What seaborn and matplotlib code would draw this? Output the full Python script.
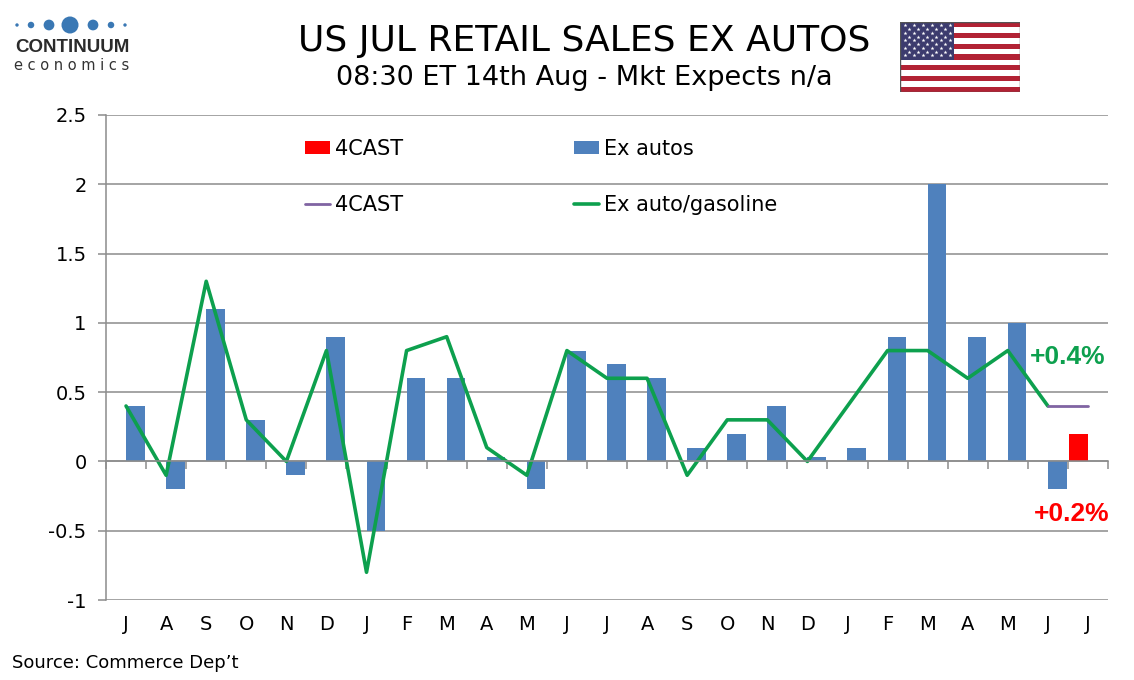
import numpy as np
import pandas as pd
import matplotlib
matplotlib.use("Agg")
import matplotlib.pyplot as plt
from matplotlib.patches import Patch, Rectangle
from matplotlib.lines import Line2D
import seaborn as sns

# ---------------- data ----------------
months = ["Jul23", "Aug23", "Sep23", "Oct23", "Nov23", "Dec23", "Jan24", "Feb24",
          "Mar24", "Apr24", "May24", "Jun24", "Jul24", "Aug24", "Sep24", "Oct24",
          "Nov24", "Dec24", "Jan25", "Feb25", "Mar25", "Apr25", "May25", "Jun25",
          "Jul25"]
tick_letters = ["J", "A", "S", "O", "N", "D", "J", "F", "M", "A", "M", "J", "J",
                "A", "S", "O", "N", "D", "J", "F", "M", "A", "M", "J", "J"]
ex_autos = [0.4, -0.2, 1.1, 0.3, -0.1, 0.9, -0.5, 0.6, 0.6, 0.03, -0.2, 0.8,
            0.7, 0.6, 0.1, 0.2, 0.4, 0.03, 0.1, 0.9, 2.0, 0.9, 1.0, -0.2]
ex_auto_gas = [0.4, -0.1, 1.3, 0.3, 0.0, 0.8, -0.8, 0.8, 0.9, 0.1, -0.1, 0.8,
               0.6, 0.6, -0.1, 0.3, 0.3, 0.0, 0.4, 0.8, 0.8, 0.6, 0.8, 0.4]
forecast_bar_month = ["Jul25"]
forecast_bar = [0.2]
forecast_line_months = ["Jun25", "Jul25"]
forecast_line = [0.4, 0.4]
yticks = [-1, -0.5, 0, 0.5, 1, 1.5, 2, 2.5]
ytick_labels = ["-1", "-0.5", "0", "0.5", "1", "1.5", "2", "2.5"]

BLUE = "#4F81BD"
RED = "#FF0000"
GREEN = "#0DA04E"
PURPLE = "#8064A2"
GRID = "#8C8C8C"

bars = pd.DataFrame({
    "month": months[:len(ex_autos)] + forecast_bar_month,
    "value": ex_autos + forecast_bar,
    "series": ["Ex autos"] * len(ex_autos) + ["4CAST"] * len(forecast_bar),
})
pos = {m: i for i, m in enumerate(months)}
line_df = pd.DataFrame({"x": [pos[m] for m in months[:len(ex_auto_gas)]], "y": ex_auto_gas})
fc_df = pd.DataFrame({"x": [pos[m] for m in forecast_line_months], "y": forecast_line})

sns.set_theme(style="white")
plt.rcParams["font.family"] = ["DejaVu Sans"]
plt.rcParams["text.color"] = "black"

fig = plt.figure(figsize=(11.34, 6.8), dpi=100)
ax = fig.add_axes([106 / 1134, 1 - 600 / 680, (1108 - 106) / 1134, 485 / 680])

sns.barplot(data=bars, x="month", y="value", hue="series", order=months,
            hue_order=["4CAST", "Ex autos"], palette={"4CAST": RED, "Ex autos": BLUE},
            width=0.93, dodge=True, saturation=1, legend=False, ax=ax, errorbar=None,
            linewidth=0, edgecolor="none")
sns.lineplot(data=line_df, x="x", y="y", color=GREEN, lw=2.6, ax=ax)
sns.lineplot(data=fc_df, x="x", y="y", color=PURPLE, lw=2.0, ax=ax)

ax.set_xlim(-0.5, len(months) - 0.5)
ax.set_ylim(-1, 2.5)
ax.set_xlabel("")
ax.set_ylabel("")
ax.set_yticks(yticks, ytick_labels)
ax.yaxis.grid(True, color=GRID, lw=1.1)
ax.xaxis.grid(False)
ax.set_axisbelow(True)
for s in ["top", "right"]:
    ax.spines[s].set_visible(False)
ax.spines["left"].set_color(GRID)
ax.spines["left"].set_linewidth(1.1)
ax.spines["bottom"].set_position(("data", 0))
ax.spines["bottom"].set_color(GRID)
ax.spines["bottom"].set_linewidth(1.1)
ax.set_xticks(range(len(months)), [""] * len(months))
ax.set_xticks(np.arange(-0.5, len(months)), minor=True)
ax.tick_params(axis="x", which="major", length=0)
ax.tick_params(axis="x", which="minor", length=6, width=1.1, color=GRID, direction="out", bottom=True)
ax.tick_params(axis="y", length=6, width=1.1, color=GRID, direction="out", left=True,
               labelsize=14, pad=8, labelcolor="black")

sec = ax.secondary_xaxis("bottom")
sec.set_xticks(range(len(months)), tick_letters)
sec.tick_params(length=0, pad=11, labelsize=14, labelcolor="black")
sec.spines["bottom"].set_visible(False)

# legend
handles = [Patch(facecolor=RED, edgecolor="none"),
           Line2D([0], [0], color=PURPLE, lw=2.0),
           Patch(facecolor=BLUE, edgecolor="none"),
           Line2D([0], [0], color=GREEN, lw=2.6)]
labels = ["4CAST", "4CAST", "Ex autos", "Ex auto/gasoline"]
fig.legend(handles, labels, ncol=2, loc="upper left",
           bbox_to_anchor=(305 / 1134, 1 - 139 / 680), frameon=False, fontsize=15,
           handlelength=1.2, handleheight=0.6, handletextpad=0.25, labelspacing=1.75,
           columnspacing=8.2, borderaxespad=0, borderpad=0, labelcolor="black")

# annotations
ax.text(23.5, 0.75, "+0.4%", color=GREEN, fontsize=19, fontweight="bold",
        family=["Liberation Sans", "DejaVu Sans"], ha="center", va="center")
ax.text(23.6, -0.38, "+0.2%", color=RED, fontsize=19, fontweight="bold",
        family=["Liberation Sans", "DejaVu Sans"], ha="center", va="center")

# titles
fig.text(584 / 1134, 1 - 41 / 680, "US JUL RETAIL SALES EX AUTOS", fontsize=26,
         ha="center", va="center", color="black")
fig.text(584 / 1134, 1 - 78 / 680, "08:30 ET 14th Aug - Mkt Expects n/a", fontsize=19.5,
         ha="center", va="center", color="black")
fig.text(12 / 1134, 1 - 663 / 680, "Source: Commerce Dep\u2019t", fontsize=13,
         ha="left", va="center", color="black")

# logo
logo = fig.add_axes([10 / 1134, 1 - 80 / 680, 130 / 1134, 70 / 680])
logo.set_xlim(0, 130)
logo.set_ylim(70, 0)
logo.axis("off")
dot_x = [7, 21, 39, 60, 83, 101, 115]
dot_s = [6, 22, 60, 150, 60, 22, 6]
logo.scatter(dot_x, [15] * len(dot_x), s=dot_s, color="#3A78B4", edgecolors="none")
logo.text(62, 37, "CONTINUUM", fontsize=13.5, fontweight="bold", color="#2B2B2B",
          ha="center", va="center", family=["Liberation Sans", "DejaVu Sans"])
logo.text(62, 56, "e c o n o m i c s", fontsize=10.5, color="#333333",
          ha="center", va="center")

# flag
flag = fig.add_axes([900 / 1134, 1 - 92 / 680, 120 / 1134, 70 / 680])
flag.set_xlim(0, 1)
flag.set_ylim(0, 13)
flag.axis("off")
for k in range(13):
    flag.add_patch(Rectangle((0, k), 1, 1, color="#B22234" if k % 2 == 0 else "white", lw=0))
flag.add_patch(Rectangle((0, 6), 0.45, 7, color="#3C3B6E", lw=0))
for r in range(9):
    n = 6 if r % 2 == 0 else 5
    off = 0.0375 if r % 2 == 0 else 0.075
    for c in range(n):
        flag.scatter(off + c * 0.075, 12.4 - r * 0.7, marker="*", s=9, color="white", lw=0)
flag.add_patch(Rectangle((0, 0), 1, 13, fill=False, edgecolor="#555555", lw=1))

fig.savefig("out.png", dpi=100)
